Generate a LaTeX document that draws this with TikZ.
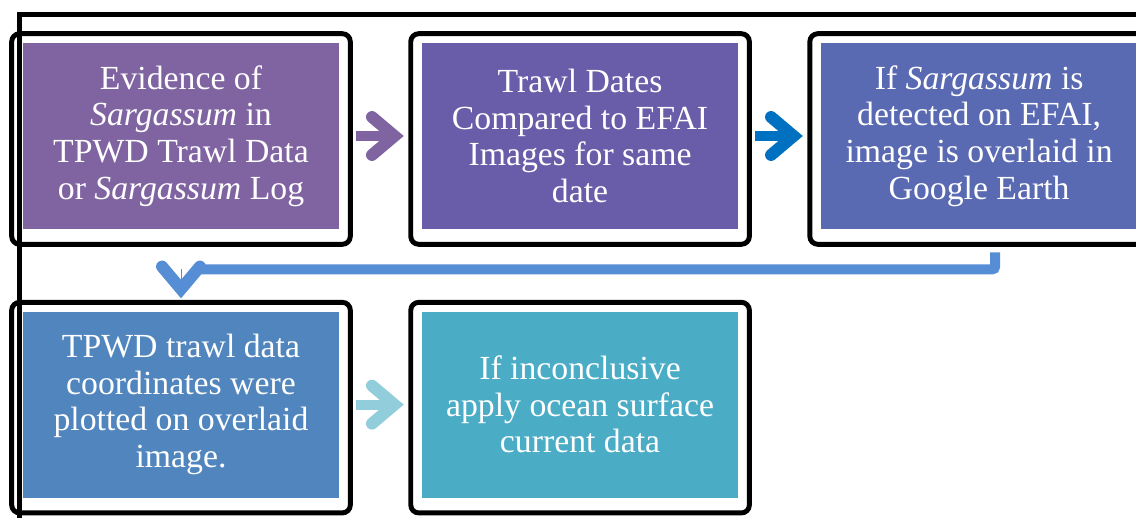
\documentclass[tikz,border=0pt]{standalone}
\usepackage{fontspec}
\setmainfont{Liberation Serif}
\usepackage{tikz}
\usetikzlibrary{positioning,calc,arrows.meta}

\definecolor{boxA}{RGB}{128,100,162}
\definecolor{boxB}{RGB}{105,93,169}
\definecolor{boxC}{RGB}{89,105,178}
\definecolor{boxD}{RGB}{80,133,190}
\definecolor{boxE}{RGB}{75,172,198}
\definecolor{arrowA}{RGB}{128,100,162}
\definecolor{arrowB}{RGB}{0,112,192}
\definecolor{arrowC}{RGB}{85,142,213}
\definecolor{arrowD}{RGB}{146,205,220}

\newcommand{\frameit}[1]{\draw[boxframe] ($(#1.north west)+(-11,-9)$) rectangle ($(#1.south east)+(11,15)$);}

\begin{document}
\begin{tikzpicture}[x=0.025cm,y=-0.025cm,
    stepbox/.style={minimum width=7.9cm, minimum height=4.65cm, inner sep=0pt,
        text=white, align=center, font=\fontsize{24}{26}\selectfont},
    boxframe/.style={draw=black, line width=3.5pt, rounded corners=0.2cm},
    chevtip/.style={-{Straight Barb[length=16pt 0 0, width=27pt 0 0,
        line width=8.5pt 0 0, line cap=round, line join=miter]}},
    flowline/.style={line width=7.1pt, chevtip, shorten <=0.42cm, shorten >=0.45cm},
    bendline/.style={line width=7.1pt, rounded corners=2pt},
    headonly/.style={line width=0.1pt, chevtip}]
    \useasboundingbox (0,0) rectangle (1136,518);

    % Outer frame
    \draw[line width=3.8pt] (1136,14.5) -- (19.5,14.5) -- (19.5,518);

    % Boxes
    \node[stepbox, fill=boxA] (evidence) at (181,136)
        {Evidence of\\ \textit{Sargassum} in\\ TPWD Trawl Data\\ or \textit{Sargassum} Log};
    \node[stepbox, fill=boxB, right=2.06cm of evidence] (compare)
        {Trawl Dates\\ Compared to EFAI\\ Images for same\\ date};
    \node[stepbox, fill=boxC, right=2.06cm of compare] (overlay)
        {If \textit{Sargassum} is\\ detected on EFAI,\\ image is overlaid in\\ Google Earth};
    \node[stepbox, fill=boxD, below=2.05cm of evidence] (plot)
        {TPWD trawl data\\ coordinates were\\ plotted on overlaid\\ image.};
    \node[stepbox, fill=boxE, right=2.06cm of plot] (current)
        {If inconclusive\\ apply ocean surface\\ current data};

    \frameit{evidence}
    \frameit{compare}
    \frameit{overlay}
    \frameit{plot}
    \frameit{current}

    % Arrows
    \draw[flowline, arrowA] (evidence) -- (compare);
    \draw[flowline, arrowB] (compare) -- (overlay);
    \draw[flowline, arrowD] (plot) -- (current);

    \coordinate (turn) at ($(plot.north)+(0,-42)$);
    \draw[bendline, arrowC] ($(overlay.south)+(16,23)$) |- ($(turn)+(14,0)$);
    \draw[headonly, arrowC] (turn) -- ($(turn)+(0,29)$);
\end{tikzpicture}
\end{document}
